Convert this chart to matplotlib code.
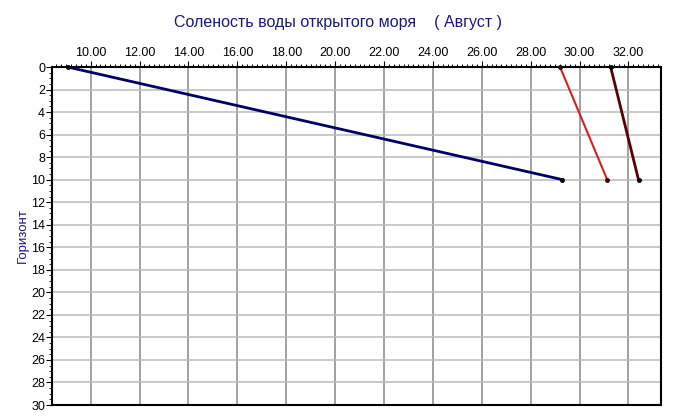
import matplotlib
matplotlib.use('Agg')
from matplotlib import pyplot as plt
from matplotlib.ticker import MultipleLocator, FormatStrFormatter

plt.rcParams['font.family'] = ['Liberation Sans', 'DejaVu Sans']

# salinity (x) vs depth (y), three stations
depth = [0, 10]
sal_blue = [9.06, 29.3]
sal_red = [29.2, 31.13]
sal_dark = [31.27, 32.41]

fig = plt.figure(figsize=(6.75, 4.19), dpi=100)
ax = fig.add_axes([52 / 675, 1 - 405 / 419, 609 / 675, 338 / 419])

ax.plot(sal_blue, depth, color='#000066', lw=2, marker='o', ms=2.5, mfc='black', mec='black', clip_on=False, zorder=5)
ax.plot(sal_red, depth, color='#d42020', lw=1.5, marker='o', ms=2.5, mfc='#400000', mec='#400000', clip_on=False, zorder=5)
ax.plot(sal_dark, depth, color='#5a0000', lw=2, marker='o', ms=2.5, mfc='black', mec='black', clip_on=False, zorder=5)

ax.set_xlim(8.42, 33.33)
ax.set_ylim(30, 0)

ax.xaxis.tick_top()
ax.xaxis.set_major_locator(MultipleLocator(2))
ax.xaxis.set_minor_locator(MultipleLocator(0.2))
ax.xaxis.set_major_formatter(FormatStrFormatter('%.2f'))
ax.yaxis.set_major_locator(MultipleLocator(2))
ax.yaxis.set_minor_locator(MultipleLocator(0.5))

ax.tick_params(axis='x', which='major', direction='out', length=4, labelsize=9, pad=2)
ax.tick_params(axis='x', which='minor', direction='out', length=2.5, width=0.7)
ax.tick_params(axis='y', which='major', direction='out', length=4, labelsize=9, pad=1)
ax.tick_params(axis='y', which='minor', direction='out', length=2.5)

ax.grid(True, axis='x', which='major', color='#888888', lw=1.1)
ax.grid(True, axis='y', which='major', color='#bbbbbb', lw=1.1)
ax.set_axisbelow(True)

for s in ax.spines.values():
    s.set_linewidth(1.5)
    s.set_color('black')

ax.set_ylabel('Горизонт', fontsize=9.5, color='#1a1a7a')
ax.yaxis.set_label_coords(-23 / 609, 0.5)
fig.text(0.5, 1 - 22 / 419, 'Соленость воды открытого моря    ( Август )',
         ha='center', va='center', fontsize=11.5, color='#1a1a7a')

fig.savefig('out.png', dpi=100)
